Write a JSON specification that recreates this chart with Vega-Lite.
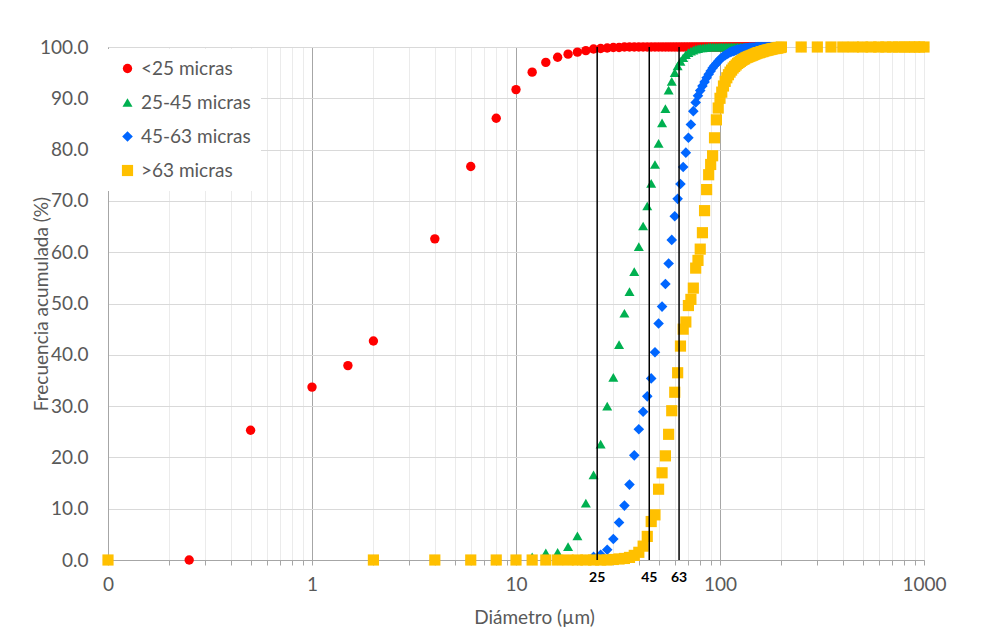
{
"$schema": "https://vega.github.io/schema/vega-lite/v6.json",
"width": 816, "height": 513,
"autosize": {"type": "none"},
"padding": {"left": 108, "top": 47, "right": 59, "bottom": 82},
"background": "white",
"config": {"font": "Lato", "view": {"stroke": "#A6A6A6", "strokeWidth": 1}},
"data": {"values": [
{"s":"a","d":0.1,"f":0},{"s":"a","d":0.25,"f":0},{"s":"a","d":0.5,"f":25.3},{"s":"a","d":1,"f":33.7},{"s":"a","d":1.5,"f":37.9},{"s":"a","d":2,"f":42.7},{"s":"a","d":4,"f":62.6},{"s":"a","d":6,"f":76.7},{"s":"a","d":8,"f":86.1},{"s":"a","d":10,"f":91.7},{"s":"a","d":12,"f":95.1},{"s":"a","d":14,"f":97.0},{"s":"a","d":16,"f":98.0},{"s":"a","d":18,"f":98.6},{"s":"a","d":20,"f":99.0},{"s":"a","d":22,"f":99.3},{"s":"a","d":24,"f":99.6},{"s":"a","d":26,"f":99.7},{"s":"a","d":28,"f":99.8},{"s":"a","d":30,"f":99.9},{"s":"a","d":32,"f":99.9},
{"s":"a","d":34,"f":100},{"s":"a","d":36,"f":100},{"s":"a","d":38,"f":100},{"s":"a","d":40,"f":100},{"s":"a","d":42,"f":100},{"s":"a","d":44,"f":100},{"s":"a","d":46,"f":100},{"s":"a","d":48,"f":100},{"s":"a","d":50,"f":100},{"s":"a","d":52,"f":100},{"s":"a","d":54,"f":100},{"s":"a","d":56,"f":100},{"s":"a","d":58,"f":100},{"s":"a","d":60,"f":100},{"s":"a","d":62,"f":100},{"s":"a","d":64,"f":100},{"s":"a","d":66,"f":100},{"s":"a","d":68,"f":100},{"s":"a","d":70,"f":100},{"s":"a","d":72,"f":100},{"s":"a","d":74,"f":100},{"s":"a","d":76,"f":100},{"s":"a","d":78,"f":100},{"s":"a","d":80,"f":100},{"s":"a","d":82,"f":100},{"s":"a","d":84,"f":100},{"s":"a","d":86,"f":100},{"s":"a","d":88,"f":100},{"s":"a","d":90,"f":100},{"s":"a","d":92,"f":100},{"s":"a","d":94,"f":100},{"s":"a","d":96,"f":100},{"s":"a","d":98,"f":100},{"s":"a","d":100,"f":100},
{"s":"a","d":102,"f":100},{"s":"a","d":104,"f":100},{"s":"a","d":106,"f":100},{"s":"a","d":108,"f":100},{"s":"a","d":110,"f":100},{"s":"a","d":112,"f":100},{"s":"a","d":114,"f":100},{"s":"a","d":116,"f":100},{"s":"a","d":118,"f":100},{"s":"a","d":120,"f":100},{"s":"a","d":122,"f":100},{"s":"a","d":124,"f":100},{"s":"a","d":126,"f":100},{"s":"a","d":128,"f":100},{"s":"a","d":130,"f":100},{"s":"a","d":132,"f":100},{"s":"a","d":134,"f":100},{"s":"a","d":136,"f":100},{"s":"a","d":138,"f":100},{"s":"a","d":140,"f":100},{"s":"a","d":142,"f":100},{"s":"a","d":144,"f":100},{"s":"a","d":146,"f":100},{"s":"a","d":148,"f":100},{"s":"a","d":150,"f":100},{"s":"a","d":152,"f":100},{"s":"a","d":154,"f":100},{"s":"a","d":156,"f":100},{"s":"a","d":158,"f":100},{"s":"a","d":160,"f":100},{"s":"a","d":162,"f":100},{"s":"a","d":164,"f":100},{"s":"a","d":166,"f":100},{"s":"a","d":168,"f":100},{"s":"a","d":170,"f":100},{"s":"a","d":172,"f":100},{"s":"a","d":174,"f":100},{"s":"a","d":176,"f":100},{"s":"a","d":178,"f":100},{"s":"a","d":180,"f":100},{"s":"a","d":182,"f":100},{"s":"a","d":184,"f":100},{"s":"a","d":186,"f":100},{"s":"a","d":188,"f":100},{"s":"a","d":190,"f":100},{"s":"a","d":192,"f":100},{"s":"a","d":194,"f":100},{"s":"a","d":196,"f":100},{"s":"a","d":198,"f":100},{"s":"a","d":200,"f":100},
{"s":"a","d":250,"f":100},{"s":"a","d":300,"f":100},{"s":"a","d":350,"f":100},{"s":"a","d":400,"f":100},{"s":"a","d":450,"f":100},{"s":"a","d":500,"f":100},{"s":"a","d":550,"f":100},{"s":"a","d":600,"f":100},{"s":"a","d":650,"f":100},{"s":"a","d":700,"f":100},{"s":"a","d":750,"f":100},{"s":"a","d":800,"f":100},{"s":"a","d":850,"f":100},{"s":"a","d":900,"f":100},{"s":"a","d":950,"f":100},{"s":"a","d":1000,"f":100},

{"s":"b","d":0.1,"f":0},{"s":"b","d":2,"f":0},{"s":"b","d":4,"f":0},{"s":"b","d":6,"f":0},{"s":"b","d":8,"f":0},{"s":"b","d":10,"f":0},{"s":"b","d":12,"f":0.6},{"s":"b","d":14,"f":1.4},{"s":"b","d":16,"f":1.5},{"s":"b","d":18,"f":2.6},{"s":"b","d":20,"f":4.7},{"s":"b","d":22,"f":11.1},{"s":"b","d":24,"f":16.6},{"s":"b","d":26,"f":22.6},{"s":"b","d":28,"f":30.0},{"s":"b","d":30,"f":35.6},{"s":"b","d":32,"f":42.0},{"s":"b","d":34,"f":48.1},{"s":"b","d":36,"f":52.3},{"s":"b","d":38,"f":56.2},{"s":"b","d":40,"f":61.1},{"s":"b","d":42,"f":65.1},{"s":"b","d":44,"f":69.0},{"s":"b","d":46,"f":73.4},{"s":"b","d":48,"f":77.1},{"s":"b","d":50,"f":81.2},{"s":"b","d":52,"f":85.2},{"s":"b","d":54,"f":88.0},{"s":"b","d":56,"f":91.6},{"s":"b","d":58,"f":93.3},{"s":"b","d":60,"f":95.0},{"s":"b","d":62,"f":96.3},{"s":"b","d":64,"f":97.2},{"s":"b","d":66,"f":97.9},{"s":"b","d":68,"f":98.5},{"s":"b","d":70,"f":98.9},{"s":"b","d":72,"f":99.2},{"s":"b","d":74,"f":99.4},{"s":"b","d":76,"f":99.6},{"s":"b","d":78,"f":99.7},{"s":"b","d":80,"f":99.8},{"s":"b","d":82,"f":99.8},{"s":"b","d":84,"f":99.9},{"s":"b","d":86,"f":99.9},{"s":"b","d":88,"f":100},{"s":"b","d":90,"f":100},{"s":"b","d":92,"f":100},{"s":"b","d":94,"f":100},{"s":"b","d":96,"f":100},{"s":"b","d":98,"f":100},{"s":"b","d":100,"f":100},
{"s":"b","d":102,"f":100},{"s":"b","d":104,"f":100},{"s":"b","d":106,"f":100},{"s":"b","d":108,"f":100},{"s":"b","d":110,"f":100},{"s":"b","d":112,"f":100},{"s":"b","d":114,"f":100},{"s":"b","d":116,"f":100},{"s":"b","d":118,"f":100},{"s":"b","d":120,"f":100},{"s":"b","d":122,"f":100},{"s":"b","d":124,"f":100},{"s":"b","d":126,"f":100},{"s":"b","d":128,"f":100},{"s":"b","d":130,"f":100},{"s":"b","d":132,"f":100},{"s":"b","d":134,"f":100},{"s":"b","d":136,"f":100},{"s":"b","d":138,"f":100},{"s":"b","d":140,"f":100},{"s":"b","d":142,"f":100},{"s":"b","d":144,"f":100},{"s":"b","d":146,"f":100},{"s":"b","d":148,"f":100},{"s":"b","d":150,"f":100},{"s":"b","d":152,"f":100},{"s":"b","d":154,"f":100},{"s":"b","d":156,"f":100},{"s":"b","d":158,"f":100},{"s":"b","d":160,"f":100},{"s":"b","d":162,"f":100},{"s":"b","d":164,"f":100},{"s":"b","d":166,"f":100},{"s":"b","d":168,"f":100},{"s":"b","d":170,"f":100},{"s":"b","d":172,"f":100},{"s":"b","d":174,"f":100},{"s":"b","d":176,"f":100},{"s":"b","d":178,"f":100},{"s":"b","d":180,"f":100},{"s":"b","d":182,"f":100},{"s":"b","d":184,"f":100},{"s":"b","d":186,"f":100},{"s":"b","d":188,"f":100},{"s":"b","d":190,"f":100},{"s":"b","d":192,"f":100},{"s":"b","d":194,"f":100},{"s":"b","d":196,"f":100},{"s":"b","d":198,"f":100},{"s":"b","d":200,"f":100},
{"s":"b","d":250,"f":100},{"s":"b","d":300,"f":100},{"s":"b","d":350,"f":100},{"s":"b","d":400,"f":100},{"s":"b","d":450,"f":100},{"s":"b","d":500,"f":100},{"s":"b","d":550,"f":100},{"s":"b","d":600,"f":100},{"s":"b","d":650,"f":100},{"s":"b","d":700,"f":100},{"s":"b","d":750,"f":100},{"s":"b","d":800,"f":100},{"s":"b","d":850,"f":100},{"s":"b","d":900,"f":100},{"s":"b","d":950,"f":100},{"s":"b","d":1000,"f":100},

{"s":"c","d":0.1,"f":0},{"s":"c","d":2,"f":0},{"s":"c","d":4,"f":0},{"s":"c","d":6,"f":0},{"s":"c","d":8,"f":0},{"s":"c","d":10,"f":0},{"s":"c","d":12,"f":0},{"s":"c","d":14,"f":0},{"s":"c","d":16,"f":0},{"s":"c","d":18,"f":0},{"s":"c","d":20,"f":0},{"s":"c","d":22,"f":0},{"s":"c","d":24,"f":0.6},{"s":"c","d":26,"f":1.0},{"s":"c","d":28,"f":2.0},{"s":"c","d":30,"f":4.1},{"s":"c","d":32,"f":7.3},{"s":"c","d":34,"f":10.6},{"s":"c","d":36,"f":14.7},{"s":"c","d":38,"f":20.4},{"s":"c","d":40,"f":25.5},{"s":"c","d":42,"f":28.9},{"s":"c","d":44,"f":31.9},{"s":"c","d":46,"f":35.4},{"s":"c","d":48,"f":40.5},{"s":"c","d":50,"f":46.1},{"s":"c","d":52,"f":49.4},{"s":"c","d":54,"f":53.8},{"s":"c","d":56,"f":57.8},{"s":"c","d":58,"f":62.4},{"s":"c","d":60,"f":67.0},{"s":"c","d":62,"f":70.4},{"s":"c","d":64,"f":73.3},{"s":"c","d":66,"f":76.6},{"s":"c","d":68,"f":79.4},{"s":"c","d":70,"f":82.3},{"s":"c","d":72,"f":84.9},{"s":"c","d":74,"f":87.5},{"s":"c","d":76,"f":89.2},{"s":"c","d":78,"f":90.5},{"s":"c","d":80,"f":91.5},{"s":"c","d":82,"f":92.4},{"s":"c","d":84,"f":93.2},{"s":"c","d":86,"f":94.0},{"s":"c","d":88,"f":94.7},{"s":"c","d":90,"f":95.3},{"s":"c","d":92,"f":95.9},{"s":"c","d":94,"f":96.4},{"s":"c","d":96,"f":96.8},{"s":"c","d":98,"f":97.2},{"s":"c","d":100,"f":97.6},
{"s":"c","d":102,"f":97.9},{"s":"c","d":104,"f":98.2},{"s":"c","d":106,"f":98.4},{"s":"c","d":108,"f":98.6},{"s":"c","d":110,"f":98.8},{"s":"c","d":112,"f":99.0},{"s":"c","d":114,"f":99.1},{"s":"c","d":116,"f":99.2},{"s":"c","d":118,"f":99.3},{"s":"c","d":120,"f":99.4},{"s":"c","d":122,"f":99.5},{"s":"c","d":124,"f":99.5},{"s":"c","d":126,"f":99.6},{"s":"c","d":128,"f":99.6},{"s":"c","d":130,"f":99.7},{"s":"c","d":132,"f":99.7},{"s":"c","d":134,"f":99.8},{"s":"c","d":136,"f":99.8},{"s":"c","d":138,"f":99.8},{"s":"c","d":140,"f":99.9},{"s":"c","d":142,"f":99.9},{"s":"c","d":144,"f":99.9},{"s":"c","d":146,"f":99.9},{"s":"c","d":148,"f":99.9},{"s":"c","d":150,"f":100},{"s":"c","d":152,"f":100},{"s":"c","d":154,"f":100},{"s":"c","d":156,"f":100},{"s":"c","d":158,"f":100},{"s":"c","d":160,"f":100},{"s":"c","d":162,"f":100},{"s":"c","d":164,"f":100},{"s":"c","d":166,"f":100},{"s":"c","d":168,"f":100},{"s":"c","d":170,"f":100},{"s":"c","d":172,"f":100},{"s":"c","d":174,"f":100},{"s":"c","d":176,"f":100},{"s":"c","d":178,"f":100},{"s":"c","d":180,"f":100},{"s":"c","d":182,"f":100},{"s":"c","d":184,"f":100},{"s":"c","d":186,"f":100},{"s":"c","d":188,"f":100},{"s":"c","d":190,"f":100},{"s":"c","d":192,"f":100},{"s":"c","d":194,"f":100},{"s":"c","d":196,"f":100},{"s":"c","d":198,"f":100},{"s":"c","d":200,"f":100},
{"s":"c","d":250,"f":100},{"s":"c","d":300,"f":100},{"s":"c","d":350,"f":100},{"s":"c","d":400,"f":100},{"s":"c","d":450,"f":100},{"s":"c","d":500,"f":100},{"s":"c","d":550,"f":100},{"s":"c","d":600,"f":100},{"s":"c","d":650,"f":100},{"s":"c","d":700,"f":100},{"s":"c","d":750,"f":100},{"s":"c","d":800,"f":100},{"s":"c","d":850,"f":100},{"s":"c","d":900,"f":100},{"s":"c","d":950,"f":100},{"s":"c","d":1000,"f":100},

{"s":"d","d":0.1,"f":0},{"s":"d","d":2,"f":0},{"s":"d","d":4,"f":0},{"s":"d","d":6,"f":0},{"s":"d","d":8,"f":0},{"s":"d","d":10,"f":0},{"s":"d","d":12,"f":0},{"s":"d","d":14,"f":0},{"s":"d","d":16,"f":0},{"s":"d","d":18,"f":0},{"s":"d","d":20,"f":0},{"s":"d","d":22,"f":0},{"s":"d","d":24,"f":0},{"s":"d","d":26,"f":0},{"s":"d","d":28,"f":0},{"s":"d","d":30,"f":0.1},{"s":"d","d":32,"f":0.2},{"s":"d","d":34,"f":0.3},{"s":"d","d":36,"f":0.5},{"s":"d","d":38,"f":0.9},{"s":"d","d":40,"f":1.5},{"s":"d","d":42,"f":2.7},{"s":"d","d":44,"f":4.6},{"s":"d","d":46,"f":7.5},{"s":"d","d":48,"f":8.8},{"s":"d","d":50,"f":13.8},{"s":"d","d":52,"f":17.0},{"s":"d","d":54,"f":20.3},{"s":"d","d":56,"f":24.5},{"s":"d","d":58,"f":29.1},{"s":"d","d":60,"f":32.7},{"s":"d","d":62,"f":36.5},{"s":"d","d":64,"f":41.7},{"s":"d","d":66,"f":45.0},{"s":"d","d":68,"f":46.4},{"s":"d","d":70,"f":49.6},{"s":"d","d":72,"f":50.8},{"s":"d","d":74,"f":53.0},{"s":"d","d":76,"f":56.9},{"s":"d","d":78,"f":58.4},{"s":"d","d":80,"f":60.6},{"s":"d","d":82,"f":63.8},{"s":"d","d":84,"f":68.1},{"s":"d","d":86,"f":72.2},{"s":"d","d":88,"f":75.1},{"s":"d","d":90,"f":77.1},{"s":"d","d":92,"f":78.8},{"s":"d","d":94,"f":82.3},{"s":"d","d":96,"f":85.8},{"s":"d","d":98,"f":88.1},{"s":"d","d":100,"f":90.0},
{"s":"d","d":102,"f":91.2},{"s":"d","d":104,"f":92.4},{"s":"d","d":106,"f":93.3},{"s":"d","d":108,"f":94.0},{"s":"d","d":110,"f":94.6},{"s":"d","d":112,"f":95.1},{"s":"d","d":114,"f":95.5},{"s":"d","d":116,"f":95.9},{"s":"d","d":118,"f":96.2},{"s":"d","d":120,"f":96.5},{"s":"d","d":122,"f":96.8},{"s":"d","d":124,"f":97.0},{"s":"d","d":126,"f":97.2},{"s":"d","d":128,"f":97.4},{"s":"d","d":130,"f":97.6},{"s":"d","d":132,"f":97.7},{"s":"d","d":134,"f":97.9},{"s":"d","d":136,"f":98.0},{"s":"d","d":138,"f":98.1},{"s":"d","d":140,"f":98.2},{"s":"d","d":142,"f":98.3},{"s":"d","d":144,"f":98.4},{"s":"d","d":146,"f":98.5},{"s":"d","d":148,"f":98.6},{"s":"d","d":150,"f":98.7},{"s":"d","d":152,"f":98.8},{"s":"d","d":154,"f":98.9},{"s":"d","d":156,"f":98.9},{"s":"d","d":158,"f":99.0},{"s":"d","d":160,"f":99.1},{"s":"d","d":162,"f":99.1},{"s":"d","d":164,"f":99.2},{"s":"d","d":166,"f":99.3},{"s":"d","d":168,"f":99.3},{"s":"d","d":170,"f":99.4},{"s":"d","d":172,"f":99.4},{"s":"d","d":174,"f":99.5},{"s":"d","d":176,"f":99.5},{"s":"d","d":178,"f":99.6},{"s":"d","d":180,"f":99.6},{"s":"d","d":182,"f":99.7},{"s":"d","d":184,"f":99.7},{"s":"d","d":186,"f":99.7},{"s":"d","d":188,"f":99.8},{"s":"d","d":190,"f":99.8},{"s":"d","d":192,"f":99.8},{"s":"d","d":194,"f":99.9},{"s":"d","d":196,"f":99.9},{"s":"d","d":198,"f":99.9},{"s":"d","d":200,"f":100},
{"s":"d","d":250,"f":100},{"s":"d","d":300,"f":100},{"s":"d","d":350,"f":100},{"s":"d","d":400,"f":100},{"s":"d","d":450,"f":100},{"s":"d","d":500,"f":100},{"s":"d","d":550,"f":100},{"s":"d","d":600,"f":100},{"s":"d","d":650,"f":100},{"s":"d","d":700,"f":100},{"s":"d","d":750,"f":100},{"s":"d","d":800,"f":100},{"s":"d","d":850,"f":100},{"s":"d","d":900,"f":100},{"s":"d","d":950,"f":100},{"s":"d","d":1000,"f":100}
]},
"layer": [
{"mark": {"type": "point", "filled": true, "opacity": 1, "strokeWidth": 0},
 "encoding": {
  "x": {"field": "d", "type": "quantitative",
   "scale": {"type": "log", "domain": [0.1, 1000]},
   "axis": {
    "values": [0.1,0.2,0.3,0.4,0.5,0.6,0.7,0.8,0.9,1,2,3,4,5,6,7,8,9,10,20,30,40,50,60,70,80,90,100,200,300,400,500,600,700,800,900,1000],
    "labelExpr": "datum.value == 0.1 ? '0' : ((datum.value == 1 || datum.value == 10 || datum.value == 100 || datum.value == 1000) ? format(datum.value, 'd') : '')",
    "labelOverlap": false, "labelFlush": false,
    "grid": true,
    "gridColor": {"condition": {"test": "datum.value == 1 || datum.value == 10 || datum.value == 100", "value": "#A6A6A6"}, "value": "#EBEBEB"},
    "domainColor": "#A6A6A6", "tickColor": "#A6A6A6", "tickSize": 5,
    "labelFontSize": 19, "labelColor": "#595959", "labelPadding": 10,
    "title": "Diámetro (µm)", "titleFontSize": 19, "titleFontWeight": "normal", "titleColor": "#595959", "titlePadding": 14, "titleX": 426
   }},
  "y": {"field": "f", "type": "quantitative",
   "scale": {"domain": [0, 100]},
   "axis": {
    "values": [0,10,20,30,40,50,60,70,80,90,100], "format": ".1f",
    "grid": true, "gridColor": "#D9D9D9", "ticks": false, "domainColor": "#A6A6A6",
    "labelFontSize": 19, "labelColor": "#595959", "labelPadding": 20,
    "title": "Frecuencia acumulada (%)", "titleFontSize": 19, "titleFontWeight": "normal", "titleColor": "#595959", "titlePadding": -12
   }},
  "color": {"field": "s", "type": "nominal",
   "scale": {"domain": ["a","b","c","d"], "range": ["#FF0000","#00B050","#0066FF","#FFC000"]},
   "legend": {"orient": "none", "legendX": 0, "legendY": 2, "title": null, "fillColor": "white", "padding": 10,
    "labelFontSize": 19, "labelColor": "#595959", "rowPadding": 14, "labelOffset": 4, "symbolStrokeWidth": 0,
    "labelExpr": "datum.label == 'a' ? '<25 micras' : datum.label == 'b' ? '25-45 micras' : datum.label == 'c' ? '45-63 micras' : '>63 micras'"}},
  "shape": {"field": "s", "type": "nominal",
   "scale": {"domain": ["a","b","c","d"], "range": ["circle","triangle-up","diamond","square"]}},
  "size": {"field": "s", "type": "nominal",
   "scale": {"domain": ["a","b","c","d"], "range": [88, 125, 100, 95]}}
 }},
{"data": {"values": [{"v": 25}, {"v": 45}, {"v": 63}]},
 "mark": {"type": "rule", "color": "black", "strokeWidth": 1.5},
 "encoding": {"x": {"field": "v", "type": "quantitative"}}},
{"data": {"values": [{"v": 25}, {"v": 45}, {"v": 63}]},
 "mark": {"type": "text", "fontWeight": "bold", "fontSize": 14, "color": "black", "baseline": "middle", "align": "center"},
 "encoding": {"x": {"field": "v", "type": "quantitative"}, "y": {"datum": -3.6}, "text": {"field": "v", "type": "quantitative"}}}
]
}
